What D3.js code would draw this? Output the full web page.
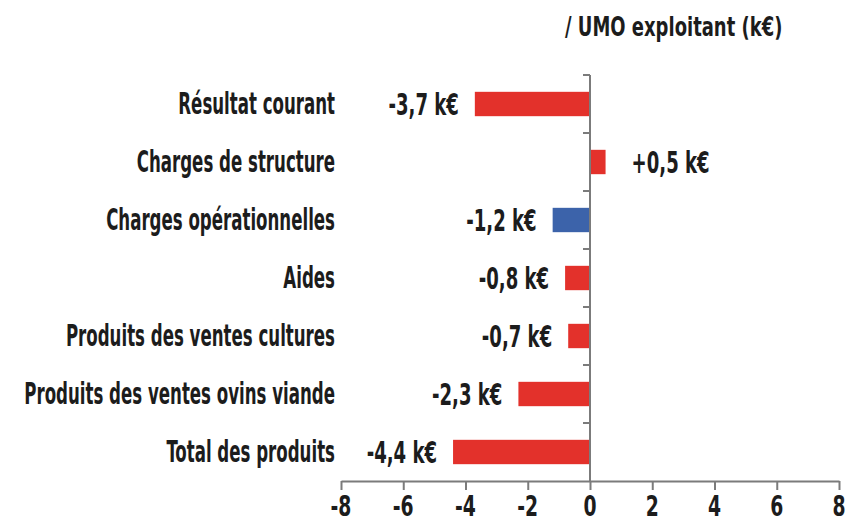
<!DOCTYPE html>
<html>
<head>
<meta charset="utf-8">
<script src="https://cdn.jsdelivr.net/npm/d3@7"></script>
<style>
body { margin: 0; background: #fff; }
text { font-family: "DejaVu Sans Condensed", "Liberation Sans Narrow", sans-serif; font-stretch: condensed; font-weight: bold; fill: #1c1c1c; }
</style>
</head>
<body>
<div id="chart"></div>
<script>
const svgWidth = 853, svgHeight = 525;

// data
const categories = ["Résultat courant", "Charges de structure", "Charges opérationnelles", "Aides",
  "Produits des ventes cultures", "Produits des ventes ovins viande", "Total des produits"];
const values = [-3.7, 0.5, -1.2, -0.8, -0.7, -2.3, -4.4];
const valueLabels = ["-3,7 k€", "+0,5 k€", "-1,2 k€", "-0,8 k€", "-0,7 k€", "-2,3 k€", "-4,4 k€"];
const barColors = ["#e3312b", "#e3312b", "#3c63aa", "#e3312b", "#e3312b", "#e3312b", "#e3312b"];
const xTicks = [-8, -6, -4, -2, 0, 2, 4, 6, 8];
const unitTitle = "/ UMO exploitant (k€)";

const axisColor = "#7b7b7b";

const svg = d3.select("#chart")
  .append("svg")
  .attr("width", svgWidth)
  .attr("height", svgHeight);

const x = d3.scaleLinear().domain([-8, 8]).range([341, 839]);
const y = d3.scaleBand().domain(categories).range([75, 481]).padding(0);
const barH = y.bandwidth() * 0.42;

// text helper: squeeze horizontally around the anchor point
function addText(g, tx, ty, str, size, anchor, sq) {
  return g.append("text")
    .attr("transform", `translate(${tx},${ty}) scale(${sq},1)`)
    .attr("text-anchor", anchor)
    .attr("dominant-baseline", "central")
    .style("font-size", size + "px")
    .text(str);
}

// bars
svg.append("g").selectAll("rect")
  .data(values)
  .enter()
  .append("rect")
  .attr("x", d => x(Math.min(0, d)))
  .attr("y", (d, i) => y(categories[i]) + (y.bandwidth() - barH) / 2)
  .attr("width", d => Math.abs(x(d) - x(0)))
  .attr("height", barH)
  .attr("fill", (d, i) => barColors[i]);

// x axis
const xAxis = svg.append("g")
  .attr("transform", `translate(0, 481)`)
  .call(d3.axisBottom(x).tickValues(xTicks).tickSize(9).tickSizeOuter(0).tickFormat(""));
xAxis.selectAll("path, line").attr("stroke", axisColor).attr("stroke-width", 2);

xTicks.forEach(t => addText(svg, x(t), 506, t, 29, "middle", 0.72));

// vertical zero axis with band-boundary ticks
const yLine = svg.append("g");
yLine.append("line")
  .attr("x1", x(0)).attr("x2", x(0))
  .attr("y1", 75).attr("y2", 481)
  .attr("stroke", axisColor).attr("stroke-width", 2);
yLine.selectAll(".bt")
  .data(categories)
  .enter()
  .append("line")
  .attr("x1", x(0) - 7).attr("x2", x(0))
  .attr("y1", d => y(d)).attr("y2", d => y(d))
  .attr("stroke", axisColor).attr("stroke-width", 2);

// category labels
const lab = svg.append("g");
categories.forEach(c => addText(lab, 335, y(c) + y.bandwidth() / 2, c, 30, "end", 0.616));

// value labels
const vl = svg.append("g");
values.forEach((v, i) => {
  const cy = y(categories[i]) + y.bandwidth() / 2;
  if (v < 0) addText(vl, x(v) - 16, cy, valueLabels[i], 30, "end", 0.67);
  else addText(vl, x(v) + 26, cy, valueLabels[i], 30, "start", 0.67);
});

// unit title
addText(svg, 565, 27, unitTitle, 27, "start", 0.74);
</script>
</body>
</html>
